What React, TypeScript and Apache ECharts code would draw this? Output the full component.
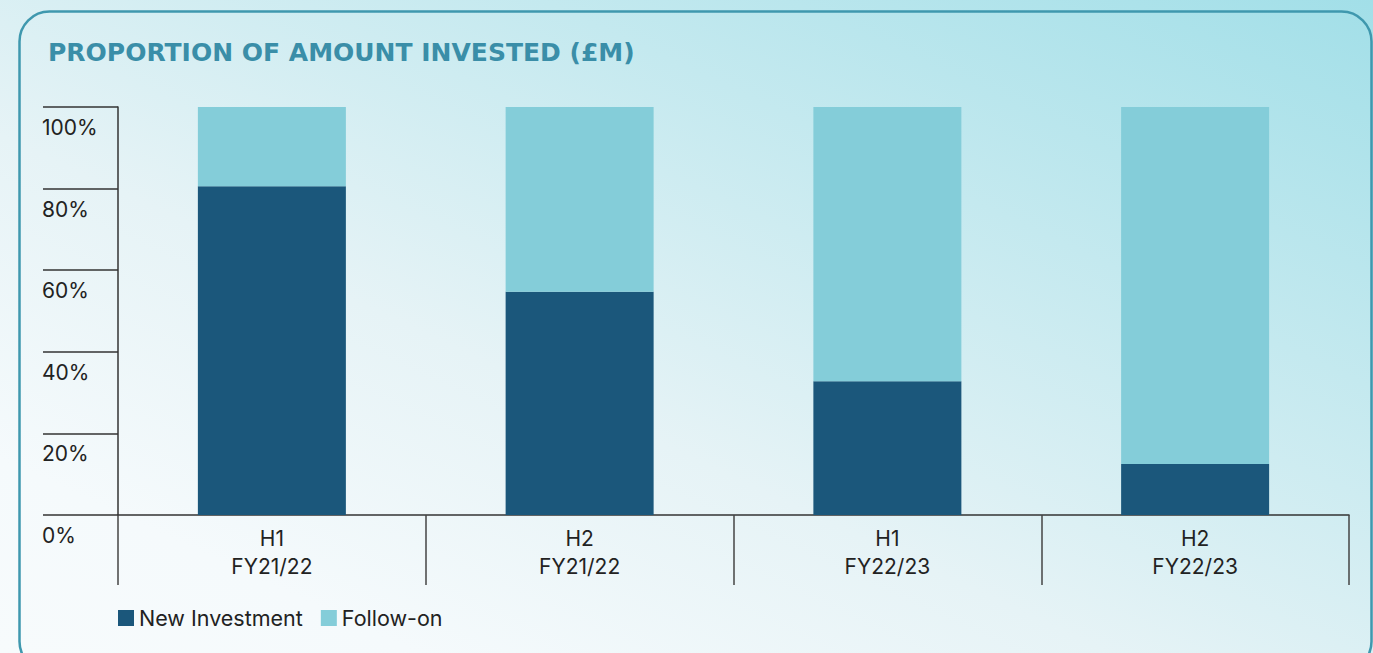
import React, { useEffect, useRef } from "react";
import * as echarts from "echarts";

const TITLE = "PROPORTION OF AMOUNT INVESTED (£M)";
const categories = ["H1\nFY21/22", "H2\nFY21/22", "H1\nFY22/23", "H2\nFY22/23"];
const newInvestment = [80.6, 54.7, 32.8, 12.5];
const followOn = [19.4, 45.3, 67.2, 87.5];
const seriesNames = ["New Investment", "Follow-on"];

export default function App() {
  const ref = useRef<HTMLDivElement>(null);
  useEffect(() => {
    const chart = echarts.init(ref.current!, null, { renderer: "svg" });
    const font = "Inter, 'Noto Sans', sans-serif";
    chart.setOption({
      animation: false,
      graphic: [
        {
          type: "rect",
          shape: { x: 19.5, y: 11.5, width: 1352, height: 660, r: 30 },
          style: { fill: "transparent", stroke: "#3f98ae", lineWidth: 2.5 },
          silent: true,
        },
        {
          type: "text",
          left: 48,
          top: 40,
          style: {
            text: TITLE,
            fill: "#3a8ea8",
            font: "bold 25px 'DejaVu Sans', sans-serif",
          },
        },
      ],
      grid: { left: 118, right: 24, top: 107, bottom: 138 },
      legend: {
        left: 113,
        top: 602,
        itemWidth: 16,
        itemHeight: 16,
        itemGap: 18,
        icon: "rect",
        textStyle: { fontFamily: font, fontSize: 21.5, color: "#222" },
        data: seriesNames,
      },
      xAxis: {
        type: "category",
        data: categories,
        boundaryGap: true,
        axisLine: { lineStyle: { color: "#333", width: 1.5 } },
        axisTick: { show: true, length: 70, alignWithLabel: false, lineStyle: { color: "#444", width: 1.5 } },
        axisLabel: { fontFamily: font, fontSize: 21, color: "#222", lineHeight: 28, margin: 9 },
      },
      yAxis: {
        type: "value",
        min: 0,
        max: 100,
        interval: 20,
        splitLine: { show: false },
        axisLine: { show: true, lineStyle: { color: "#333", width: 1.5 } },
        axisTick: { show: true, length: 75, lineStyle: { color: "#333", width: 1.5 } },
        axisLabel: {
          fontFamily: font,
          fontSize: 21,
          color: "#222",
          align: "left",
          verticalAlign: "top",
          margin: 76,
          padding: [10, 0, 0, 0],
          formatter: "{value}%",
        },
      },
      series: [
        {
          name: seriesNames[0],
          type: "bar",
          stack: "total",
          barWidth: 148,
          data: newInvestment,
          itemStyle: { color: "#1b577b" },
        },
        {
          name: seriesNames[1],
          type: "bar",
          stack: "total",
          barWidth: 148,
          data: followOn,
          itemStyle: { color: "#84cdd9" },
        },
      ],
    });
    return () => chart.dispose();
  }, []);
  return (
    <div
      style={{
        position: "fixed",
        left: 0,
        top: 0,
        width: 1373,
        height: 653,
        background:
          "linear-gradient(205deg, #a2dfe8 0%, #c4e9ef 30%, #e6f3f6 60%, #f5fafc 85%, #f7fbfc 100%)",
      }}
    >
      <div ref={ref} style={{ width: 1373, height: 653 }} />
    </div>
  );
}
